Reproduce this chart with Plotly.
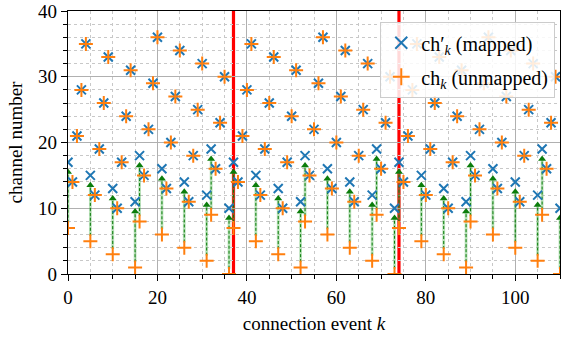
import plotly.graph_objects as go

k = list(range(111))
unmapped = [7, 14, 21, 28, 35, 5, 12, 19, 26, 33, 3, 10, 17, 24, 31, 1, 8, 15, 22, 29, 36, 6, 13, 20, 27, 34, 4, 11, 18, 25, 32, 2, 9, 16, 23, 30, 0,
            7, 14, 21, 28, 35, 5, 12, 19, 26, 33, 3, 10, 17, 24, 31, 1, 8, 15, 22, 29, 36, 6, 13, 20, 27, 34, 4, 11, 18, 25, 32, 2, 9, 16, 23, 30, 0,
            7, 14, 21, 28, 35, 5, 12, 19, 26, 33, 3, 10, 17, 24, 31, 1, 8, 15, 22, 29, 36, 6, 13, 20, 27, 34, 4, 11, 18, 25, 32, 2, 9, 16, 23, 30, 0]
mapped = [17, 14, 21, 28, 35, 15, 12, 19, 26, 33, 13, 10, 17, 24, 31, 11, 18, 15, 22, 29, 36, 16, 13, 20, 27, 34, 14, 11, 18, 25, 32, 12, 19, 16, 23, 30, 10,
          17, 14, 21, 28, 35, 15, 12, 19, 26, 33, 13, 10, 17, 24, 31, 11, 18, 15, 22, 29, 36, 16, 13, 20, 27, 34, 14, 11, 18, 25, 32, 12, 19, 16, 23, 30, 10,
          17, 14, 21, 28, 35, 15, 12, 19, 26, 33, 13, 10, 17, 24, 31, 11, 18, 15, 22, 29, 36, 16, 13, 20, 27, 34, 14, 11, 18, 25, 32, 12, 19, 16, 23, 30, 10]
period_marks = [37, 74]

FONT = "Liberation Serif"

fig = go.Figure()

# arrows (shaft + head) from unmapped to mapped channel
sx, sy, hx, hy = [], [], [], []
for kk, u, m in zip(k, unmapped, mapped):
    if u != m:
        sx += [kk, kk, None]
        sy += [u + 0.8, m - 1.6, None]
        hx.append(kk)
        hy.append(m - 1.5)
fig.add_trace(go.Scatter(x=sx, y=sy, mode="lines", showlegend=False, hoverinfo="skip",
                         line=dict(color="rgba(80,180,80,0.4)", width=2.8)))
fig.add_trace(go.Scatter(x=sx, y=sy, mode="lines", showlegend=False, hoverinfo="skip",
                         line=dict(color="#0b7d0b", width=1, dash="3px,2px")))
fig.add_trace(go.Scatter(x=hx, y=hy, mode="markers", showlegend=False, hoverinfo="skip",
                         marker=dict(symbol="triangle-up", size=7, color="#0b7d0b",
                                     line=dict(width=0))))

fig.add_trace(go.Scatter(x=k, y=mapped, mode="markers", name="ch′<sub><i>k</i></sub> (mapped)",
                         legendgroup="a",
                         marker=dict(symbol="x-thin", size=9, color="#1f77b4",
                                     line=dict(color="#1f77b4", width=2))))
fig.add_trace(go.Scatter(x=k, y=unmapped, mode="markers", name="ch<sub><i>k</i></sub> (unmapped)",
                         legendgroup="b",
                         marker=dict(symbol="cross-thin", size=10, color="#ff7f0e",
                                     line=dict(color="#ff7f0e", width=2))))

for p in period_marks:
    fig.add_shape(type="line", x0=p, x1=p, y0=0, y1=1, xref="x", yref="paper",
                  line=dict(color="red", width=3.2), layer="between")

axis_common = dict(showline=True, linecolor="black", linewidth=1.3, mirror=True,
                   ticks="outside", ticklen=6, tickwidth=1.2, tickcolor="black",
                   showgrid=True, gridcolor="#b0b0b0", gridwidth=1.3, zeroline=False,
                   automargin=False,
                   tickfont=dict(family=FONT, size=19, color="black"))

fig.update_xaxes(range=[0, 110], tick0=0, dtick=20,
                 minor=dict(dtick=5, ticks="outside", ticklen=3.5, tickcolor="black",
                            showgrid=True, gridcolor="#c8c8c8", griddash="dot", gridwidth=1),
                 title=dict(text="connection event <i>k</i>", font=dict(family=FONT, size=19, color="black"),
                            standoff=9),
                 **axis_common)
fig.update_yaxes(range=[0, 40], tick0=0, dtick=10,
                 minor=dict(dtick=2, ticks="outside", ticklen=3.5, tickcolor="black",
                            showgrid=True, gridcolor="#c8c8c8", griddash="dot", gridwidth=1),
                 title=dict(text="channel number", font=dict(family=FONT, size=19, color="black"),
                            standoff=10),
                 **axis_common)

fig.update_layout(
    width=562, height=337,
    margin=dict(l=68, r=2, t=11, b=63),
    plot_bgcolor="white", paper_bgcolor="white",
    legend=dict(x=0.99, y=0.958, xanchor="right", yanchor="top",
                bgcolor="rgba(255,255,255,0.85)", bordercolor="#cccccc", borderwidth=1.2,
                font=dict(family=FONT, size=20, color="black"),
                itemsizing="constant", tracegroupgap=5),
)

fig.write_html("out.html", config={"displayModeBar": False},
               post_script="document.body.style.margin='0';document.body.style.padding='0';")
